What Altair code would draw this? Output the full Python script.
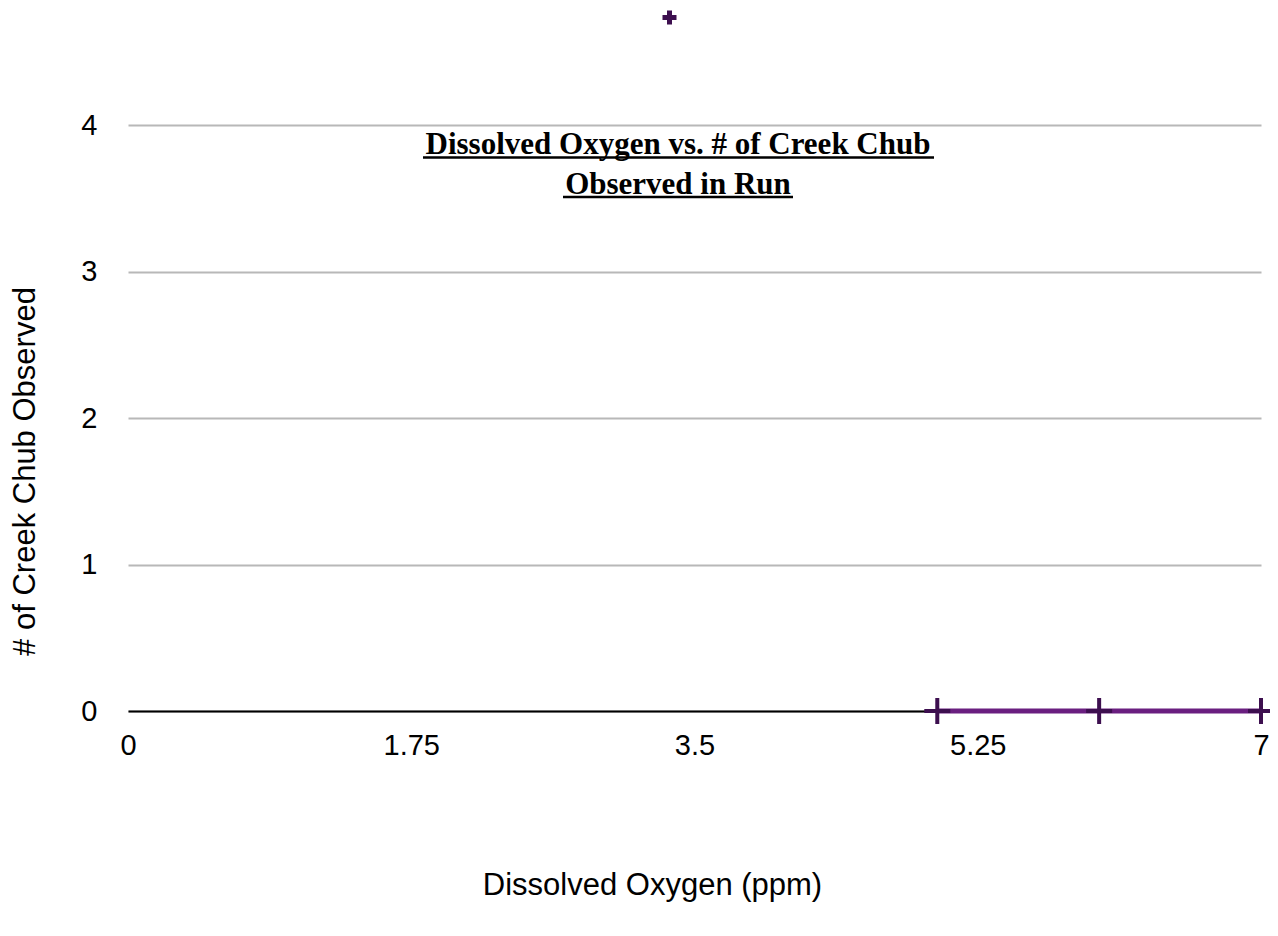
import altair as alt
import pandas as pd

# data
oxygen_ppm = [5.0, 6.0, 7.0]
creek_chub = [0, 0, 0]
series_name = ["Creek Chub"] * 3
x_ticks = [0, 1.75, 3.5, 5.25, 7]
y_ticks = [0, 1, 2, 3, 4]
title_lines = ["Dissolved Oxygen vs. # of Creek Chub", "Observed in Run"]

df = pd.DataFrame({"x": oxygen_ppm, "y": creek_chub, "s": series_name})

LINE = "#6a1f80"
MARK = "#3d0f4f"
PLUS = "M-1,0L1,0M0,-1L0,1"
FONT = "Liberation Sans"

xscale = alt.Scale(domain=[0, 7], nice=False, zero=False)
yscale = alt.Scale(domain=[0, 4], nice=False)

xaxis = alt.Axis(values=x_ticks, grid=False, ticks=False, domain=True,
                 domainColor="black", domainWidth=2, labelFont=FONT,
                 labelFontSize=29, labelColor="black", labelPadding=20,
                 labelFlush=False, labelOverlap=False,
                 labelExpr="datum.value == 1.75 ? '1.75' : datum.value == 5.25 ? '5.25' : format(datum.value, '')",
                 title="Dissolved Oxygen (ppm)", titleFont=FONT, titleFontSize=31,
                 titleFontWeight="normal", titleColor="black",
                 titleX=524, titleY=174, titleBaseline="middle")
yaxis = alt.Axis(values=y_ticks, grid=True, gridColor="#b8b8b8", gridWidth=2,
                 ticks=False, domain=False, labelFont=FONT, labelFontSize=29,
                 labelColor="black", labelPadding=31, format="d",
                 labelFlush=False, labelOverlap=False,
                 title="# of Creek Chub Observed", titleFont=FONT, titleFontSize=31,
                 titleFontWeight="normal", titleColor="black",
                 titleX=-103, titleY=346, titleBaseline="middle", titleAngle=270)

base = alt.Chart(df)

line = base.mark_line(color=LINE, strokeWidth=5).encode(
    x=alt.X("x:Q", scale=xscale, axis=xaxis),
    y=alt.Y("y:Q", scale=yscale, axis=yaxis),
)

points = base.mark_point(shape=PLUS, size=676, strokeWidth=4, filled=False, opacity=1).encode(
    x=alt.X("x:Q", scale=xscale),
    y=alt.Y("y:Q", scale=yscale),
    stroke=alt.Stroke("s:N", scale=alt.Scale(range=[MARK]),
                      legend=alt.Legend(title=None, orient="none", legendX=532, legendY=-117,
                                        labelExpr="''", symbolType=PLUS, symbolSize=196,
                                        symbolStrokeWidth=5, symbolStrokeColor=MARK,
                                        padding=0, labelLimit=1)),
)

tdf = pd.DataFrame({"t": ["\n".join(title_lines)]})
title = alt.Chart(tdf).mark_text(
    font="Liberation Serif", fontSize=31, fontWeight="bold", color="black",
    lineBreak="\n", lineHeight=40, align="center", baseline="alphabetic",
).encode(text="t:N", x=alt.value(550), y=alt.value(29))

udf = pd.DataFrame({"u": [1]})
underline1 = alt.Chart(udf).mark_rule(color="black", strokeWidth=2.5).encode(
    x=alt.value(295), x2=alt.value(806), y=alt.value(32.5))
underline2 = alt.Chart(udf).mark_rule(color="black", strokeWidth=2.5).encode(
    x=alt.value(435), x2=alt.value(665), y=alt.value(72))

chart = alt.layer(line, points, title, underline1, underline2).properties(
    width=1133, height=586,
    autosize=alt.AutoSizeParams(type="none"),
    padding={"left": 120, "top": 117, "right": 9, "bottom": 200},
).configure_view(stroke=None)

chart.save("out.html", embed_options={"renderer": "svg", "actions": False})
